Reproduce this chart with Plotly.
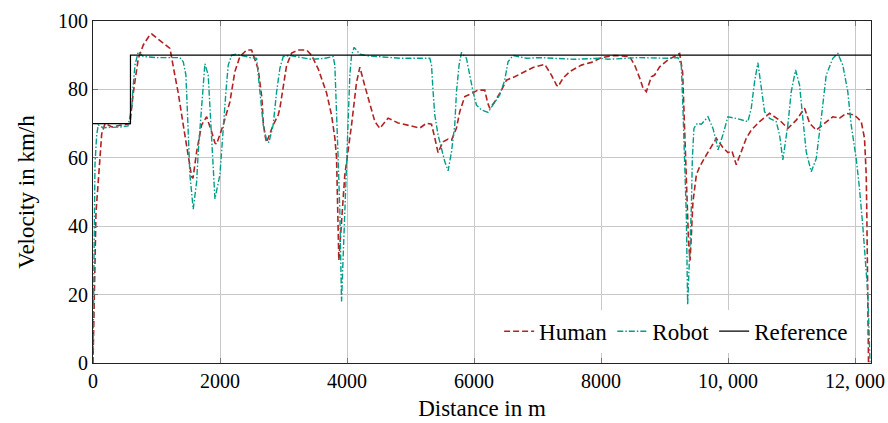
import plotly.graph_objects as go

# Human (red dashed)
human_x = [0, 47, 110, 137, 189, 300, 425, 582, 634, 713, 792, 897, 924, 1054, 1212, 1290, 1342, 1421, 1500, 1553, 1574,
           1632, 1710, 1789, 1868, 1920, 1946, 2050, 2156, 2234, 2313, 2419, 2497, 2601, 2659, 2680, 2707, 2733, 2837,
           2916, 2943, 2995, 3048, 3127, 3231, 3363, 3441, 3546, 3677, 3756, 3808, 3835, 3871, 3965, 4071, 4149, 4202,
           4280, 4359, 4438, 4516, 4647, 4804, 5040, 5146, 5251, 5330, 5382, 5433, 5512, 5591, 5645, 5723, 5775, 5854,
           5959, 6063, 6168, 6215, 6247, 6326, 6404, 6510, 6640, 6798, 6928, 7113, 7218, 7297, 7322, 7401, 7506, 7690,
           7848, 8005, 8214, 8450, 8529, 8608, 8660, 8713, 8791, 8843, 8922, 9053, 9158, 9237, 9284, 9316, 9342, 9378,
           9402, 9446, 9500, 9552, 9631, 9709, 9814, 9918, 9997, 10060, 10129, 10208, 10286, 10365, 10496, 10653, 10810,
           10941, 11073, 11204, 11283, 11388, 11519, 11649, 11755, 11860, 11991, 12096, 12148, 12175, 12184, 12203, 12211]
human_v = [0, 44, 60, 67, 70, 69, 69.5, 70, 79, 89, 93, 96, 96.2, 94.4, 92, 84, 79, 69.6, 60, 54.5, 54,
           61.8, 69.6, 72, 67.6, 64.3, 64, 69.6, 76.4, 85.2, 89.6, 91.5, 91.5, 86, 77.5, 70.5, 66.7, 64.5, 69.6,
           72.5, 74.5, 81, 87, 90.6, 91.5, 91.5, 90, 86, 79, 72.5, 65.8, 60, 30, 55, 69.6, 82, 86.5,
           81, 75.4, 70.6, 68.6, 71.6, 70.2, 69.1, 68.7, 70.1, 69.8, 65.8, 61.5, 64.7, 65.5, 65.2, 68.7, 73.5, 77.9,
           78.8, 79.8, 79.8, 76, 74.5, 76.4, 78.8, 82.7, 83.7, 85.2, 86.4, 87.3, 84.2, 81.3, 80.8, 83.3, 85.2, 87.1,
           87.9, 89.3, 89.9, 89.6, 87.1, 83.3, 80.4, 79.3, 83.7, 84.2, 86.6, 88.6, 89.6, 90.5, 85, 69.6, 55, 35,
           30, 47, 55, 57.4, 60, 62.5, 65.7, 63, 61.5, 62, 58, 61.8, 65.7, 68.1, 70.6, 73, 71,
           68.6, 71, 74.5, 70.1, 68.1, 70.1, 72, 71.6, 73, 72.5, 70.6, 65.7, 55, 44, 20, 0]

# Robot (teal dash-dot)
robot_x = [0, 31, 58, 83, 157, 268, 425, 551, 609, 634, 661, 713, 792, 1002, 1369, 1421, 1463, 1484, 1500, 1526, 1578,
           1632, 1657, 1710, 1736, 1762, 1814, 1841, 1868, 1893, 1920, 1998, 2050, 2093, 2129, 2183, 2261, 2470, 2576,
           2601, 2628, 2680, 2733, 2770, 2837, 2891, 2943, 2995, 3100, 3441, 3651, 3781, 3808, 3835, 3860, 3887, 3913,
           3965, 3992, 4017, 4044, 4071, 4112, 4202, 4332, 4700, 4831, 5303, 5330, 5355, 5382, 5433, 5487, 5539, 5591,
           5645, 5696, 5723, 5764, 5802, 5880, 5932, 5984, 6038, 6116, 6220, 6299, 6404, 6483, 6535, 6614, 6825, 7034,
           7270, 7585, 7978, 8109, 8581, 9053, 9210, 9263, 9289, 9316, 9342, 9363, 9421, 9437, 9462, 9515, 9578, 9683,
           9762, 9814, 9840, 9918, 9997, 10129, 10312, 10365, 10417, 10469, 10522, 10574, 10653, 10758, 10810, 10862,
           10941, 10994, 11062, 11125, 11177, 11230, 11309, 11388, 11466, 11545, 11649, 11728, 11806, 11885, 11938,
           12017, 12069, 12121, 12200, 12235]
robot_v = [0, 58, 66.7, 69.6, 68.8, 68.8, 69, 69.3, 74.5, 81.3, 87.1, 91, 89.6, 89.3, 89.3, 88.1, 84.2, 74.5, 64.7, 55, 45,
           53, 61.8, 74.5, 83.2, 87.5, 84.2, 74.5, 64.7, 55, 48, 55, 69.6, 79.3, 87.1, 90, 90.3, 89.3, 89.1,
           84.2, 77.5, 69.6, 65.2, 64.5, 69.6, 79.3, 86.2, 89.6, 89.9, 88.8, 89.1, 89.6, 87.1, 74.5, 59.8, 44.2, 18,
           44.2, 59.8, 74.5, 84.2, 90, 92.3, 90.3, 89.8, 89.3, 89.1, 89.1, 87.1, 79.3, 72.5, 66.7, 62.8, 58.9, 56.2,
           61.8, 69.6, 79.3, 87.1, 90.8, 89.1, 84.2, 79.3, 75.4, 74, 73.3, 75.4, 78.4, 82.7, 88.1, 89.9, 89.1, 89.3,
           89.1, 88.8, 89.1, 88.8, 89.3, 89.1, 89.3, 87.1, 74.5, 59.8, 43.3, 17, 45.2, 59.8, 68.6, 70.1, 69.8, 72,
           68.6, 64.7, 62.3, 66.7, 72, 71.5, 70.6, 74.5, 82.3, 87.8, 81.3, 73.5, 71.5, 70.6, 66.7, 59.4,
           69.6, 79.3, 85.7, 81.3, 71.5, 61.8, 55.9, 59.8, 71.5, 84.2, 89.1, 90.5, 87.1, 79.3, 69.6,
           59.8, 51, 40, 20.4, 0]

# Reference speed limit (step)
ref_x = [0, 590, 12250]
ref_v = [70, 90, 90]

x_ticks = [0, 2000, 4000, 6000, 8000, 10000, 12000]
x_labels = ["0", "2000", "4000", "6000", "8000", "10, 000", "12, 000"]
y_ticks = [0, 20, 40, 60, 80, 100]

FONT = "Liberation Serif"

fig = go.Figure()
fig.add_trace(go.Scatter(x=human_x, y=human_v, mode="lines", name="Human",
                         line=dict(color="#B22222", width=1.6, dash="6px,3px")))
fig.add_trace(go.Scatter(x=robot_x, y=robot_v, mode="lines", name="Robot",
                         line=dict(color="#009E8A", width=1.4, dash="6px,2px,1.5px,2px")))
fig.add_trace(go.Scatter(x=ref_x, y=ref_v, mode="lines", name="Reference", line_shape="hv",
                         line=dict(color="black", width=1.2)))

axis_common = dict(showgrid=True, gridcolor="#C8C8C8", gridwidth=1, zeroline=False,
                   showline=True, linecolor="#222222", linewidth=1, mirror="allticks",
                   ticks="inside", ticklen=5, tickcolor="#777777", automargin=False,
                   tickfont=dict(family=FONT, size=20, color="black"))

fig.update_layout(
    width=888, height=423,
    margin=dict(l=93, r=17, t=21, b=60, autoexpand=False),
    paper_bgcolor="white", plot_bgcolor="white",
    font=dict(family=FONT, size=20, color="black"),
    showlegend=True,
    legend=dict(orientation="h", x=0.977, xanchor="right", y=0.03, yanchor="bottom",
                bgcolor="white", borderwidth=0, itemwidth=30,
                font=dict(family=FONT, size=23, color="black"),
                tracegroupgap=0),
)
fig.update_xaxes(range=[0, 12250], tickvals=x_ticks, ticktext=x_labels,
                 title=dict(text="Distance in m", font=dict(family=FONT, size=23), standoff=8),
                 **axis_common)
fig.update_yaxes(range=[0, 100], tickvals=y_ticks,
                 title=dict(text="Velocity in km/h", font=dict(family=FONT, size=23), standoff=16),
                 **axis_common)

fig.write_html("out.html")
